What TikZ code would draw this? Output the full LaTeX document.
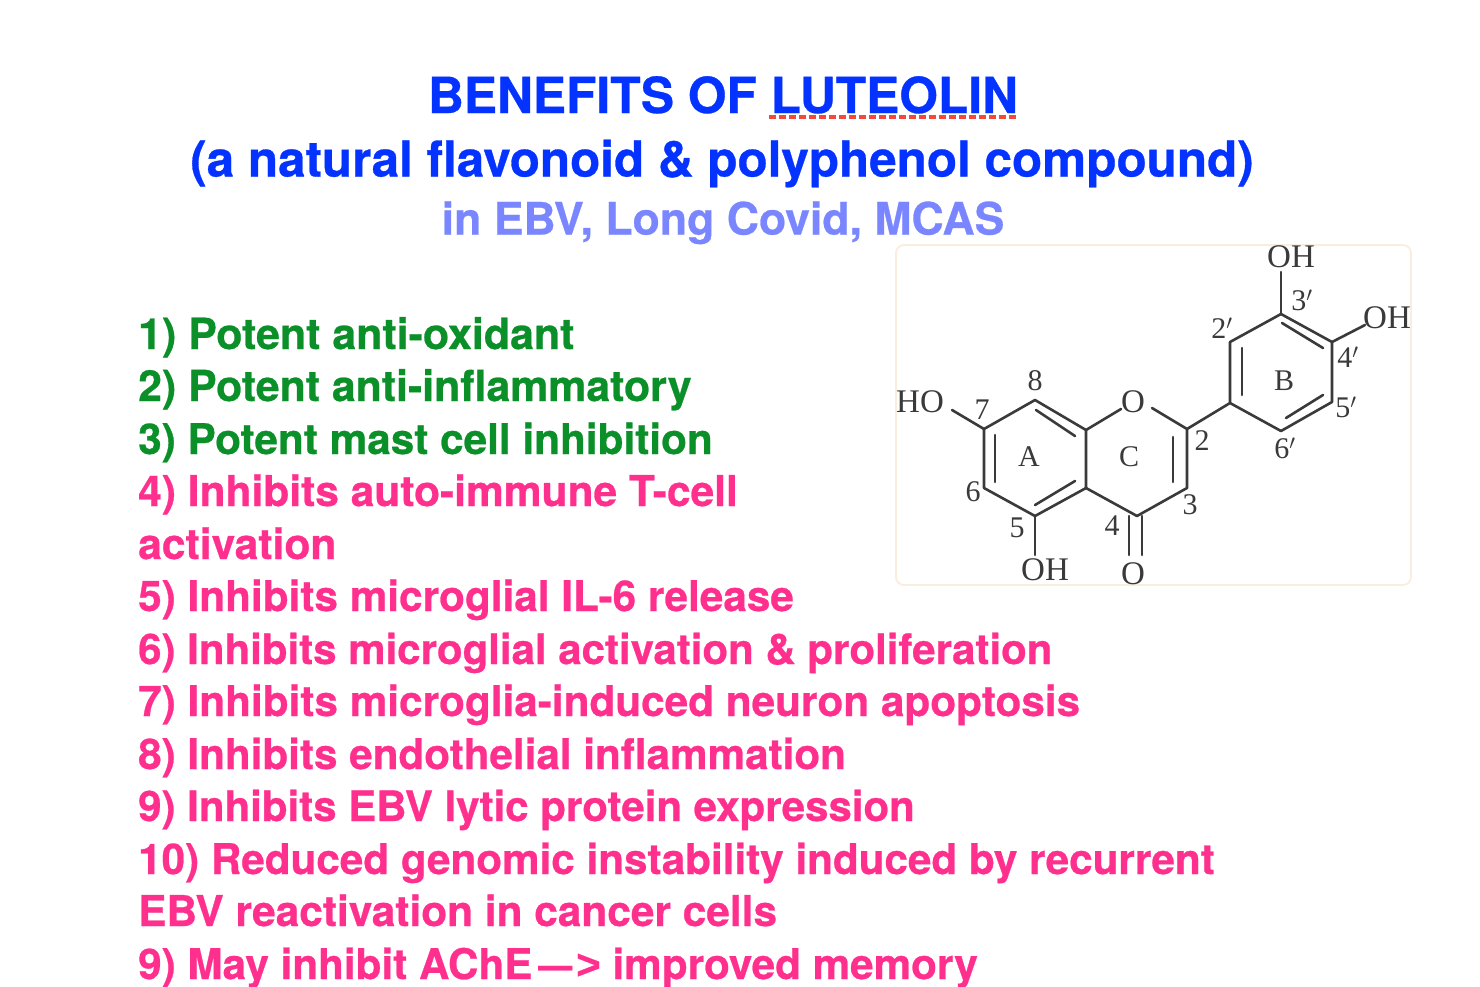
\documentclass[tikz,border=0pt]{standalone}
\usepackage{fontspec}
\setmainfont[FakeBold=0.6]{TeX Gyre Heros}
\newfontfamily\chemfont{Liberation Serif}
\newfontfamily\gtfont[FakeBold=0.6]{Liberation Sans}
\definecolor{titleblue}{HTML}{0433FF}
\definecolor{lilac}{HTML}{7A86FF}
\definecolor{leaf}{HTML}{0B8F28}
\definecolor{rose}{HTML}{FF2F8E}
\definecolor{ink}{HTML}{3A3A3A}
\definecolor{cream}{HTML}{F9EEDD}
\definecolor{spell}{HTML}{F5483C}
\tikzset{
  x=1pt,y=-1pt,
  titletext/.style={font=\fontsize{#1}{#1}\selectfont\bfseries,text=titleblue,inner sep=0pt,anchor=base},
  subtext/.style={font=\fontsize{#1}{#1}\selectfont\bfseries,text=lilac,inner sep=0pt,anchor=base},
  goodtext/.style={font=\fontsize{#1}{#1}\selectfont\bfseries,text=leaf,inner sep=0pt,anchor=base west},
  badtext/.style={font=\fontsize{#1}{#1}\selectfont\bfseries,text=rose,inner sep=0pt,anchor=base west},
  bond/.style={draw=ink,line width=2.6pt,line cap=round,line join=round},
  atomtext/.style={font=\chemfont\fontsize{33}{33}\selectfont,text=ink,inner sep=0pt},
  numtext/.style={font=\chemfont\fontsize{30}{30}\selectfont,text=ink,inner sep=0pt},
}
\begin{document}
\begin{tikzpicture}
\useasboundingbox (0,0) rectangle (1480,986);
% titles
\node[titletext=49.7] (t1) at (723,113) {BENEFITS OF LUTEOLIN};
\node[titletext=49.4] (t2) at (722,176.5) {(a natural flavonoid \& polyphenol compound)};
\node[subtext=44.6] (t3) at (723,234.5) {in EBV, Long Covid, MCAS};
\coordinate (ula) at (769,117);
\coordinate (ulb) at (1016,117);
\draw[spell,line width=4pt,dash pattern=on 7pt off 3pt] (ula) -- (ulb);
% list
\node[goodtext=42.9] (l1) at (138,349) {1) Potent anti-oxidant};
\node[goodtext=42.8] (l2) at (138,401) {2) Potent anti-inflammatory};
\node[goodtext=42.3] (l3) at (138,454) {3) Potent mast cell inhibition};
\node[badtext=42.5] (l4) at (138,506) {4) Inhibits auto-immune T-cell};
\node[badtext=42.6] (l4b) at (138,559) {activation};
\node[badtext=42.3] (l5) at (138,611) {5) Inhibits microglial IL-6 release};
\node[badtext=42] (l6) at (138,664) {6) Inhibits microglial activation \& proliferation};
\node[badtext=42.3] (l7) at (138,716) {7) Inhibits microglia-induced neuron apoptosis};
\node[badtext=42.2] (l8) at (138,769) {8) Inhibits endothelial inflammation};
\node[badtext=42] (l9) at (138,821) {9) Inhibits EBV lytic protein expression};
\node[badtext=42.2] (l10) at (138,874) {10) Reduced genomic instability induced by recurrent};
\node[badtext=42.4] (l10b) at (138,926) {EBV reactivation in cancer cells};
\node[badtext=42.2] (l11) at (138,979) {9) May inhibit AChE\kern6pt\scalebox{0.8}[1]{—}\kern4pt{\gtfont >} improved memory};
% panel
\draw[cream,line width=1.8pt,fill=white,rounded corners=8pt] (896,245) rectangle (1411,585);
% atoms
\coordinate (c8) at (1035,400);
\coordinate (c8a) at (1086,430);
\coordinate (c4a) at (1086,488);
\coordinate (c5) at (1035,516);
\coordinate (c6) at (984,488);
\coordinate (c7) at (984,429);
\coordinate (c2) at (1187,429);
\coordinate (c3) at (1187,488);
\coordinate (c4) at (1137,516);
\coordinate (b1) at (1230,403);
\coordinate (b2) at (1230,342);
\coordinate (b3) at (1281,314);
\coordinate (b4) at (1332,342);
\coordinate (b5) at (1332,402);
\coordinate (b6) at (1281,431);
% heteroatom labels
\node[atomtext] (oring) at (1133,402) {O};
\node[atomtext] (ocarb) at (1133,574) {O};
\node[atomtext] (oh5) at (1045,570) {OH};
\node[atomtext] (ho7) at (920,402) {HO};
\node[atomtext] (oh3p) at (1291,257) {OH};
\node[atomtext] (oh4p) at (1387,318) {OH};
% free ends
\coordinate (oa) at (1121,409);
\coordinate (ob) at (1152,408);
\coordinate (oc5) at (1035,555);
\coordinate (ho) at (952,410);
\coordinate (oh3e) at (1281,272);
\coordinate (oh4e) at (1365,325);
\coordinate (co1a) at (1129,516);
\coordinate (co1b) at (1129,555);
\coordinate (co2a) at (1142,516);
\coordinate (co2b) at (1142,555);
% skeleton
\draw[bond] (c7) -- (c8) -- (c8a) -- (c4a) -- (c5) -- (c6) -- (c7);
\draw[bond] (c8a) -- (oa);
\draw[bond] (ob) -- (c2) -- (c3) -- (c4) -- (c4a);
\draw[bond] (c5) -- (oc5);
\draw[bond] (ho) -- (c7);
\draw[bond] (co1a) -- (co1b);
\draw[bond] (co2a) -- (co2b);
\draw[bond] (c2) -- (b1) -- (b2) -- (b3) -- (b4) -- (b5) -- (b6) -- (b1);
\draw[bond] (b3) -- (oh3e);
\draw[bond] (b4) -- (oh4e);
% inner double bonds
\coordinate (i1a) at (995,435); \coordinate (i1b) at (995,482);
\coordinate (i2a) at (1036,410); \coordinate (i2b) at (1075,436);
\coordinate (i3a) at (1035,505); \coordinate (i3b) at (1075,481);
\coordinate (i4a) at (1173,437); \coordinate (i4b) at (1173,482);
\coordinate (i5a) at (1242,348); \coordinate (i5b) at (1242,395);
\coordinate (i6a) at (1282,323); \coordinate (i6b) at (1323,348);
\coordinate (i7a) at (1286,418); \coordinate (i7b) at (1323,395);
\draw[bond] (i1a) -- (i1b);
\draw[bond] (i2a) -- (i2b);
\draw[bond] (i3a) -- (i3b);
\draw[bond] (i4a) -- (i4b);
\draw[bond] (i5a) -- (i5b);
\draw[bond] (i6a) -- (i6b);
\draw[bond] (i7a) -- (i7b);
% ring letters and numbering
\node[numtext] (ra) at (1029,457) {A};
\node[numtext] (rc) at (1129,457) {C};
\node[numtext] (rb) at (1284,381) {B};
\node[numtext] (n8) at (1035,381) {8};
\node[numtext] (n7) at (982,410) {7};
\node[numtext] (n6) at (973,492) {6};
\node[numtext] (n5) at (1017,528) {5};
\node[numtext] (n4) at (1112,526) {4};
\node[numtext] (n3) at (1190,505) {3};
\node[numtext] (n2) at (1202,441) {2};
\node[numtext] (p2) at (1222,328) {2$'$};
\node[numtext] (p3) at (1302,300) {3$'$};
\node[numtext] (p4) at (1348,357) {4$'$};
\node[numtext] (p5) at (1346,407) {5$'$};
\node[numtext] (p6) at (1285,448) {6$'$};
\end{tikzpicture}
\end{document}
